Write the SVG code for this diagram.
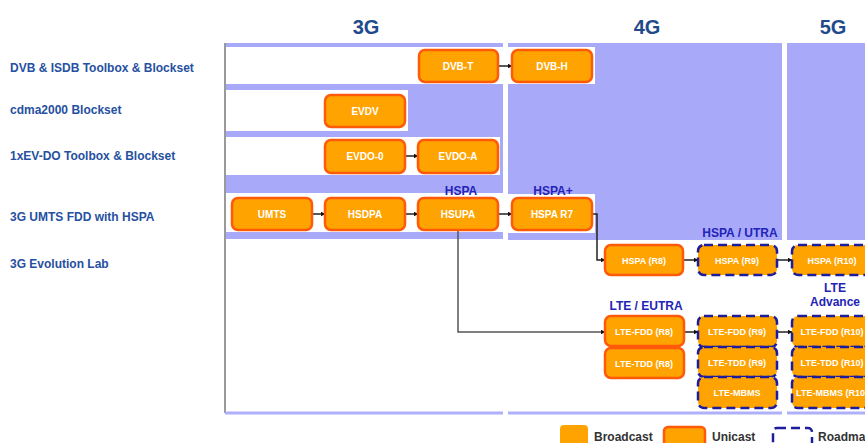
<svg xmlns="http://www.w3.org/2000/svg" width="865" height="443" viewBox="0 0 865 443">
<defs>
<style>
.bg{fill:#ffffff}
.pu{fill:#a9a9f9}
.wh{fill:#ffffff}
.hdr{font-family:"Liberation Sans",Arial,sans-serif;font-weight:bold;font-size:20px;fill:#1f4a8c;text-anchor:middle}
.lbl{font-family:"Liberation Sans",Arial,sans-serif;font-weight:bold;font-size:12px;fill:#2650a0}
.grp{font-family:"Liberation Sans",Arial,sans-serif;font-weight:bold;font-size:12px;fill:#2323b8;text-anchor:middle}
.uni{fill:#ffa300;stroke:#ff5a0a;stroke-width:2.5}
.road{fill:#ffa300;stroke:#1c1c9c;stroke-width:2.5;stroke-dasharray:9 5}
.brd{fill:#ffa300}
.nt{font-family:"Liberation Sans",Arial,sans-serif;font-weight:bold;font-size:10px;fill:#ffffff;text-anchor:middle}
.ns{font-family:"Liberation Sans",Arial,sans-serif;font-weight:bold;font-size:9px;fill:#ffffff;text-anchor:middle}
.leg{font-family:"Liberation Sans",Arial,sans-serif;font-weight:bold;font-size:12px;fill:#333333}
.cn{fill:none;stroke:#222222;stroke-width:1.5}
.cg{fill:none;stroke:#555555;stroke-width:1.5}
</style>
<marker id="ar" viewBox="0 0 10 10" refX="9" refY="5" markerWidth="5" markerHeight="5" orient="auto" markerUnits="userSpaceOnUse">
<path d="M0,0 L10,5 L0,10 z" fill="#111111"/>
</marker>
</defs>
<rect class="bg" x="0" y="0" width="865" height="443"/>

<g id="background">
<rect class="pu" x="226" y="43" width="277" height="196"/>
<rect class="pu" x="508" y="43" width="274" height="197"/>
<rect class="pu" x="787" y="43" width="78" height="197"/>
<rect class="wh" x="226" y="47" width="277" height="37"/>
<rect class="wh" x="508" y="47" width="87" height="37"/>
<rect class="wh" x="226" y="90" width="182" height="41"/>
<rect class="wh" x="226" y="137" width="274" height="38"/>
<rect class="wh" x="226" y="193" width="277" height="39"/>
<rect class="wh" x="508" y="194" width="87" height="39"/>
<line x1="225" y1="43" x2="225" y2="413" stroke="#9a9a9a" stroke-width="2"/>
<line x1="225" y1="413" x2="503" y2="413" stroke="#b0b0fa" stroke-width="3"/>
<line x1="508" y1="413" x2="782" y2="413" stroke="#b0b0fa" stroke-width="3"/>
<line x1="787" y1="413" x2="865" y2="413" stroke="#b0b0fa" stroke-width="3"/>
</g>

<g id="headers">
<text class="hdr" x="366" y="34">3G</text>
<text class="hdr" x="647" y="34">4G</text>
<text class="hdr" x="833" y="34">5G</text>
</g>

<g id="row-labels">
<text class="lbl" x="10" y="72">DVB &amp; ISDB Toolbox &amp; Blockset</text>
<text class="lbl" x="10" y="114">cdma2000 Blockset</text>
<text class="lbl" x="10" y="160">1xEV-DO Toolbox &amp; Blockset</text>
<text class="lbl" x="10" y="221">3G UMTS FDD with HSPA</text>
<text class="lbl" x="10" y="268">3G Evolution Lab</text>
</g>

<g id="group-labels">
<text class="grp" x="461" y="195">HSPA</text>
<text class="grp" x="553" y="195">HSPA+</text>
<text class="grp" x="740" y="237">HSPA / UTRA</text>
<text class="grp" x="646" y="310">LTE / EUTRA</text>
<text class="grp" x="835" y="292">LTE</text>
<text class="grp" x="835" y="306">Advance</text>
</g>

<g id="connectors">
<line class="cn" x1="498" y1="66" x2="512" y2="66" marker-end="url(#ar)"/>
<line class="cn" x1="405" y1="156" x2="418" y2="156" marker-end="url(#ar)"/>
<line class="cn" x1="312" y1="214" x2="325" y2="214" marker-end="url(#ar)"/>
<line class="cn" x1="405" y1="214" x2="418" y2="214" marker-end="url(#ar)"/>
<line class="cn" x1="498" y1="214" x2="512" y2="214" marker-end="url(#ar)"/>
<polyline class="cn" points="592,214 597,214 597,260 605,260" marker-end="url(#ar)"/>
<polyline class="cg" points="458,230 458,332 605,332" marker-end="url(#ar)"/>
<line class="cn" x1="683" y1="260" x2="698" y2="260" marker-end="url(#ar)"/>
<line class="cn" x1="777" y1="260" x2="792" y2="260" marker-end="url(#ar)"/>
<line class="cn" x1="684" y1="332" x2="698" y2="332" marker-end="url(#ar)"/>
<line class="cn" x1="777" y1="332" x2="792" y2="332" marker-end="url(#ar)"/>
</g>

<g id="dvb-t"><rect class="uni" x="419" y="50" width="79" height="32" rx="6"/><text class="nt" x="458" y="70">DVB-T</text></g>
<g id="dvb-h"><rect class="uni" x="512" y="50" width="80" height="32" rx="6"/><text class="nt" x="552" y="70">DVB-H</text></g>
<g id="evdv"><rect class="uni" x="325" y="95" width="80" height="32" rx="6"/><text class="nt" x="365" y="115">EVDV</text></g>
<g id="evdo-0"><rect class="uni" x="325" y="140" width="80" height="33" rx="6"/><text class="nt" x="365" y="160">EVDO-0</text></g>
<g id="evdo-a"><rect class="uni" x="418" y="140" width="80" height="33" rx="6"/><text class="nt" x="458" y="160">EVDO-A</text></g>
<g id="umts"><rect class="uni" x="232" y="198" width="80" height="32" rx="6"/><text class="nt" x="272" y="218">UMTS</text></g>
<g id="hsdpa"><rect class="uni" x="325" y="198" width="80" height="32" rx="6"/><text class="nt" x="365" y="218">HSDPA</text></g>
<g id="hsupa"><rect class="uni" x="418" y="198" width="80" height="32" rx="6"/><text class="nt" x="458" y="218">HSUPA</text></g>
<g id="hspa-r7"><rect class="uni" x="512" y="198" width="80" height="32" rx="6"/><text class="nt" x="552" y="218">HSPA R7</text></g>
<g id="hspa-r8"><rect class="uni" x="605" y="245" width="78" height="30" rx="6"/><text class="ns" x="644" y="264">HSPA (R8)</text></g>
<g id="hspa-r9"><rect class="road" x="698" y="245" width="79" height="30" rx="6"/><text class="ns" x="737" y="264">HSPA (R9)</text></g>
<g id="hspa-r10"><rect class="road" x="792" y="245" width="80" height="30" rx="6"/><text class="ns" x="832" y="264">HSPA (R10)</text></g>

<g id="lte-fdd-r8"><rect class="uni" x="605" y="316" width="79" height="30" rx="6"/><text class="ns" x="644" y="335">LTE-FDD (R8)</text></g>
<g id="lte-tdd-r8"><rect class="uni" x="605" y="348" width="79" height="30" rx="6"/><text class="ns" x="644" y="367">LTE-TDD (R8)</text></g>

<g id="lte-fdd-r9"><rect class="road" x="698" y="316" width="79" height="31" rx="6"/><text class="ns" x="737" y="335">LTE-FDD (R9)</text></g>
<g id="lte-tdd-r9"><rect class="road" x="698" y="347" width="79" height="30" rx="6"/><text class="ns" x="737" y="366">LTE-TDD (R9)</text></g>
<g id="lte-mbms-r9"><rect class="road" x="698" y="377" width="79" height="31" rx="6"/><text class="ns" x="737" y="396">LTE-MBMS</text></g>

<g id="lte-fdd-r10"><rect class="road" x="792" y="316" width="80" height="31" rx="6"/><text class="ns" x="832" y="335">LTE-FDD (R10)</text></g>
<g id="lte-tdd-r10"><rect class="road" x="792" y="347" width="80" height="30" rx="6"/><text class="ns" x="832" y="366">LTE-TDD (R10)</text></g>
<g id="lte-mbms-r10"><rect class="road" x="792" y="377" width="80" height="31" rx="6"/><text class="ns" x="832" y="396">LTE-MBMS (R10)</text></g>

<g id="legend">
<rect class="brd" x="560" y="425" width="28" height="24" rx="4"/>
<text class="leg" x="594" y="441">Broadcast</text>
<rect class="uni" x="664" y="427" width="41" height="22" rx="4"/>
<text class="leg" x="712" y="441">Unicast</text>
<rect x="773" y="428" width="39" height="22" rx="4" fill="none" stroke="#1c1c9c" stroke-width="2.5" stroke-dasharray="9 5"/>
<text class="leg" x="818" y="441">Roadmap</text>
</g>
</svg>
